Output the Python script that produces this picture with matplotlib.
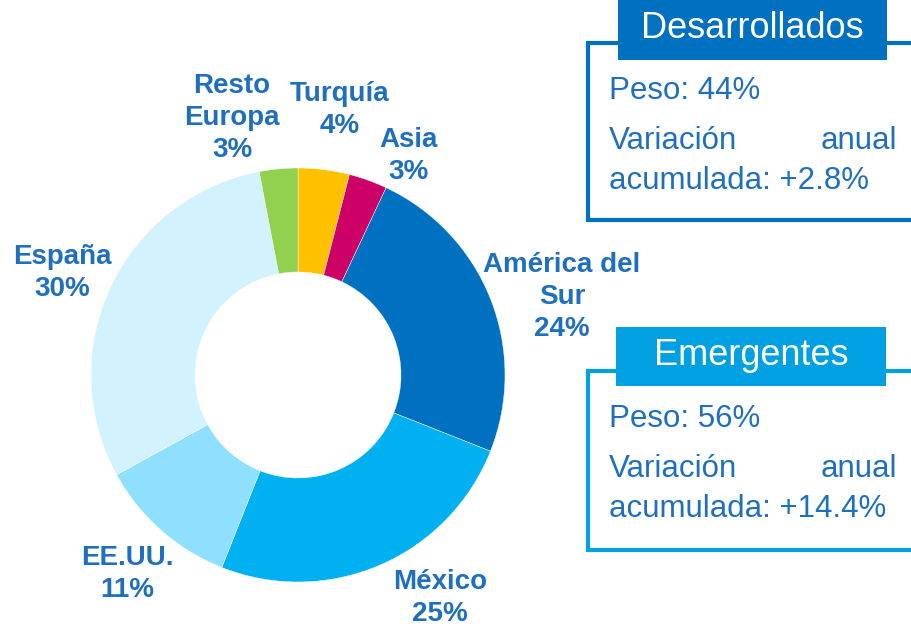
import matplotlib
matplotlib.use("Agg")
import matplotlib.pyplot as plt
from matplotlib.patches import Rectangle

# ---- data ----
categories = ["Turquía", "Asia", "América del Sur", "México", "EE.UU.", "España", "Resto Europa"]
values = [4, 3, 24, 25, 11, 30, 3]
label_texts = ["Turquía\n4%", "Asia\n3%", "América del\nSur\n24%", "México\n25%",
               "EE.UU.\n11%", "España\n30%", "Resto\nEuropa\n3%"]
colors = ["#FFC000", "#CC0066", "#0070C0", "#00B0F0", "#8FE0FF", "#D2F2FD", "#92D050"]

groups = ["Desarrollados", "Emergentes"]
group_weight = ["Peso: 44%", "Peso: 56%"]
group_var = ["+2.8%", "+14.4%"]

# ---- layout (pixel coordinates, y up) ----
W, H = 911, 629
fig = plt.figure(figsize=(W / 100, H / 100), dpi=100)
ax = fig.add_axes([0, 0, 1, 1])
ax.set_xlim(0, W)
ax.set_ylim(0, H)
ax.set_aspect("equal")
ax.axis("off")

cx, cy, R = 298, H - 375, 207
ax.pie(values, colors=colors, startangle=90, counterclock=False,
       center=(cx, cy), radius=R, frame=True,
       wedgeprops=dict(width=104, edgecolor="white", linewidth=0.3))
ax.set_xlim(0, W)
ax.set_ylim(0, H)
ax.axis("off")

label_pos = [(340, 110), (408, 156), (562, 297), (440, 598), (127, 574), (62, 273), (232, 118)]
label_color = "#1F6FBF"
for txt, (x, y) in zip(label_texts, label_pos):
    ax.text(x, H - y, txt, ha="center", va="center", fontsize=20, fontweight="bold",
            color=label_color, family="Liberation Sans", linespacing=1.28)

# ---- boxes ----
box_colors = ["#0070C0", "#00A0E3"]
box_top = [43, 371]
box_bottom = [220, 550]
title_rect = [(618, 0, 887, 60), (616, 327, 886, 386)]
text_color = "#1F6FBF"
for i in range(2):
    c = box_colors[i]
    top, bot = H - box_top[i], H - box_bottom[i]
    ax.plot([W + 10, 588, 588, W + 10], [top, top, bot, bot], color=c, lw=3,
            solid_joinstyle="miter", clip_on=False)
    x0, y0, x1, y1 = title_rect[i]
    ax.add_patch(Rectangle((x0, H - y1), x1 - x0, y1 - y0, facecolor=c, edgecolor="none", zorder=3))
    ax.text((x0 + x1) / 2, H - (y0 + y1) / 2 + 1, groups[i], ha="center", va="center",
            fontsize=26, color="white", family="Liberation Sans", zorder=4)
    base = box_top[i]
    ax.text(609, H - (base + 48), group_weight[i], ha="left", va="center",
            fontsize=22.5, color=text_color, family="Liberation Sans")
    ax.text(609, H - (base + 98), "Variación", ha="left", va="center",
            fontsize=22.5, color=text_color, family="Liberation Sans")
    ax.text(897, H - (base + 98), "anual", ha="right", va="center",
            fontsize=22.5, color=text_color, family="Liberation Sans")
    ax.text(609, H - (base + 138), "acumulada: " + group_var[i], ha="left", va="center",
            fontsize=22.5, color=text_color, family="Liberation Sans")

fig.savefig("out.png", dpi=100)
